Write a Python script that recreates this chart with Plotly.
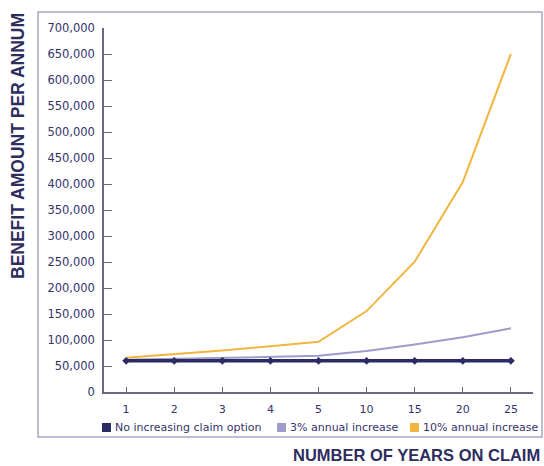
import plotly.graph_objects as go

# Benefit per annum over the years on claim, for three claim options
years = ["1", "2", "3", "4", "5", "10", "15", "20", "25"]
level = [60000, 60000, 60000, 60000, 60000, 60000, 60000, 60000, 60000]
rise_3 = [61800, 63700, 65600, 67500, 69600, 79000, 91500, 105500, 122500]
rise_10 = [66000, 72600, 79900, 87800, 96600, 155600, 250600, 403700, 650100]

series_names = ["No increasing claim option", "3% annual increase", "10% annual increase"]
y_ticks = list(range(0, 700001, 50000))
y_tick_text = ["0"] + [f"{v:,}" for v in y_ticks[1:]]

NAVY = "#2b2a62"
LAVENDER = "#9d9cca"
ORANGE = "#f2b540"
TEXT = "#34346c"

W, H = 544, 466
L, R, T, B = 104, 11, 28, 74
PW, PH = W - L - R, H - T - B


def px(x):
    return (x - L) / PW


def py(y):
    return (H - B - y) / PH


fig = go.Figure()
fig.add_trace(go.Scatter(x=years, y=rise_10, mode="lines", name=series_names[2],
                         line=dict(color=ORANGE, width=2)))
fig.add_trace(go.Scatter(x=years, y=rise_3, mode="lines", name=series_names[1],
                         line=dict(color=LAVENDER, width=2)))
fig.add_trace(go.Scatter(x=years, y=level, mode="lines+markers", name=series_names[0],
                         line=dict(color=NAVY, width=3.5),
                         marker=dict(color=NAVY, size=6, symbol="diamond")))

fig.update_layout(
    width=W, height=H,
    margin=dict(l=L, r=R, t=T, b=B),
    paper_bgcolor="white", plot_bgcolor="white",
    showlegend=False,
    font=dict(family="DejaVu Sans", color=TEXT, size=10),
)
fig.update_xaxes(
    type="category", range=[-0.46, 8.46],
    showline=True, linecolor="#6a6880", linewidth=1.5,
    ticks="inside", ticklen=5, tickcolor="#6a6880",
    showgrid=False, zeroline=False,
    tickfont=dict(family="DejaVu Sans", size=11, color=TEXT),
    ticklabelstandoff=6,
)
fig.update_yaxes(
    range=[0, 700000], tickvals=y_ticks, ticktext=y_tick_text,
    showline=True, linecolor="#6a6880", linewidth=1.5,
    ticks="inside", ticklen=8, tickcolor="#6a6880",
    showgrid=False, zeroline=False,
    tickfont=dict(family="DejaVu Sans", size=11.5, color=TEXT),
    ticklabelstandoff=5,
)

# frame around chart and legend
fig.add_shape(type="rect", xref="paper", yref="paper",
              x0=px(38), x1=px(542), y0=py(437), y1=py(12),
              line=dict(color="#a9a7c2", width=1.5), layer="below")

# legend row inside the frame
legend_items = [(102, NAVY, series_names[0]), (277, LAVENDER, series_names[1]),
                (410, ORANGE, series_names[2])]
for x0, col, label in legend_items:
    fig.add_shape(type="rect", xref="paper", yref="paper",
                  x0=px(x0), x1=px(x0 + 9), y0=py(432), y1=py(423),
                  fillcolor=col, line=dict(width=0))
    fig.add_annotation(text=label, xref="paper", yref="paper",
                       x=px(x0 + 11), y=py(427.5), xanchor="left", yanchor="middle",
                       showarrow=False,
                       font=dict(family="DejaVu Sans", size=11, color=TEXT))

# axis titles
fig.add_annotation(text="<b>BENEFIT AMOUNT PER ANNUM</b>", xref="paper", yref="paper",
                   x=px(18), y=py(146), xanchor="center", yanchor="middle",
                   textangle=-90, showarrow=False,
                   font=dict(family="Liberation Sans", size=17.5, color="#2e2d5e"))
fig.add_annotation(text="<b>NUMBER OF YEARS ON CLAIM</b>", xref="paper", yref="paper",
                   x=px(542), y=py(454.5), xanchor="right", yanchor="middle",
                   showarrow=False,
                   font=dict(family="Liberation Sans", size=16.5, color="#2e2d5e"))

fig.write_html("out.html")
